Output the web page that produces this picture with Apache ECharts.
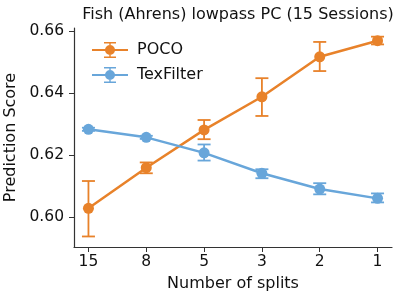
<!DOCTYPE html>
<html><head><meta charset="utf-8">
<script src="https://cdn.jsdelivr.net/npm/echarts@6/dist/echarts.min.js"></script>
<style>html,body{margin:0;padding:0;background:#fff}#c{width:399px;height:299px}</style>
</head><body><div id="c"></div>
<script>
const categories = ['15', '8', '5', '3', '2', '1'];
const pocoMean = [0.6028, 0.6159, 0.6281, 0.6388, 0.6517, 0.6569];
const pocoLow  = [0.5937, 0.6141, 0.6251, 0.6326, 0.6471, 0.6557];
const pocoHigh = [0.6116, 0.6176, 0.6313, 0.6448, 0.6565, 0.6582];
const texMean  = [0.6283, 0.6257, 0.6207, 0.6141, 0.6090, 0.6060];
const texLow   = [0.6278, 0.6252, 0.6182, 0.6125, 0.6073, 0.6047];
const texHigh  = [0.6288, 0.6262, 0.6234, 0.6154, 0.6109, 0.6076];
const yTicks = [0.60, 0.62, 0.64, 0.66];

const ORANGE = '#e8822a', BLUE = '#68a6da';
const FONT = 'DejaVu Sans';
const icon = 'path://M0 7H36V9H0Z M12 0H24V1.6H12Z M12 14.4H24V16H12Z M17.3 1.6H18.7V14.4H17.3Z M13 8A5 5 0 1 1 23 8A5 5 0 1 1 13 8Z';

function errSeries(name, color, low, high) {
  return {
    type: 'custom', name: name, z: 3, silent: true,
    data: low.map((l, i) => [i, l, high[i]]),
    renderItem: function (params, api) {
      const x = api.value(0);
      const p1 = api.coord([x, api.value(1)]);
      const p2 = api.coord([x, api.value(2)]);
      const w = 6.5;
      const st = { stroke: color, lineWidth: 1.8 };
      return { type: 'group', children: [
        { type: 'line', shape: { x1: p1[0], y1: p1[1], x2: p2[0], y2: p2[1] }, style: st },
        { type: 'line', shape: { x1: p1[0]-w, y1: p1[1], x2: p1[0]+w, y2: p1[1] }, style: st },
        { type: 'line', shape: { x1: p2[0]-w, y1: p2[1], x2: p2[0]+w, y2: p2[1] }, style: st }
      ]};
    }
  };
}
function lineSeries(name, color, mean) {
  return {
    type: 'line', name: name, z: 4,
    data: mean.map((v, i) => [i, v]),
    symbol: 'circle', symbolSize: 11,
    lineStyle: { color: color, width: 2.5 },
    itemStyle: { color: color },
    emphasis: { disabled: true }, animation: false
  };
}

const chart = echarts.init(document.getElementById('c'), null, { renderer: 'canvas' });
chart.setOption({
  animation: false,
  title: { text: 'Fish (Ahrens) lowpass PC (15 Sessions)', left: 233, textAlign: 'center', top: 2,
    textStyle: { fontFamily: FONT, fontSize: 16, fontWeight: 'normal', color: '#111' } },
  legend: {
    data: ['POCO', 'TexFilter'], orient: 'vertical', left: 87, top: 37,
    itemWidth: 36, itemHeight: 16, itemGap: 9, icon: icon,
    textStyle: { fontFamily: FONT, fontSize: 16, lineHeight: 16, color: '#111', padding: [0, 0, 0, 4] }
  },
  grid: { left: 74, right: 7, top: 28, bottom: 52, outerBoundsMode: 'none' },
  xAxis: {
    type: 'value', min: -0.25, max: 5.25,
    name: 'Number of splits', nameLocation: 'middle', nameGap: 29,
    nameTextStyle: { fontFamily: FONT, fontSize: 16, color: '#111' },
    axisLine: { onZero: false, lineStyle: { color: '#333', width: 1.2 } },
    axisTick: { customValues: [0,1,2,3,4,5], length: 5, lineStyle: { color: '#333' } },
    axisLabel: { customValues: [0,1,2,3,4,5], formatter: v => categories[Math.round(v)],
      fontFamily: FONT, fontSize: 15.5, color: '#111', margin: 7 },
    splitLine: { show: false }
  },
  yAxis: {
    type: 'value', min: 0.5903, max: 0.661,
    name: 'Prediction Score', nameLocation: 'middle', nameGap: 53,
    nameTextStyle: { fontFamily: FONT, fontSize: 16, color: '#111' },
    axisLine: { show: true, onZero: false, lineStyle: { color: '#333', width: 1.2 } },
    axisTick: { show: true, customValues: yTicks, length: 5, lineStyle: { color: '#333' } },
    axisLabel: { customValues: yTicks, formatter: v => v.toFixed(2),
      fontFamily: FONT, fontSize: 15.5, color: '#111', margin: 10 },
    splitLine: { show: false }
  },
  series: [
    lineSeries('POCO', ORANGE, pocoMean),
    lineSeries('TexFilter', BLUE, texMean),
    errSeries('POCO', ORANGE, pocoLow, pocoHigh),
    errSeries('TexFilter', BLUE, texLow, texHigh)
  ]
});
</script></body></html>
